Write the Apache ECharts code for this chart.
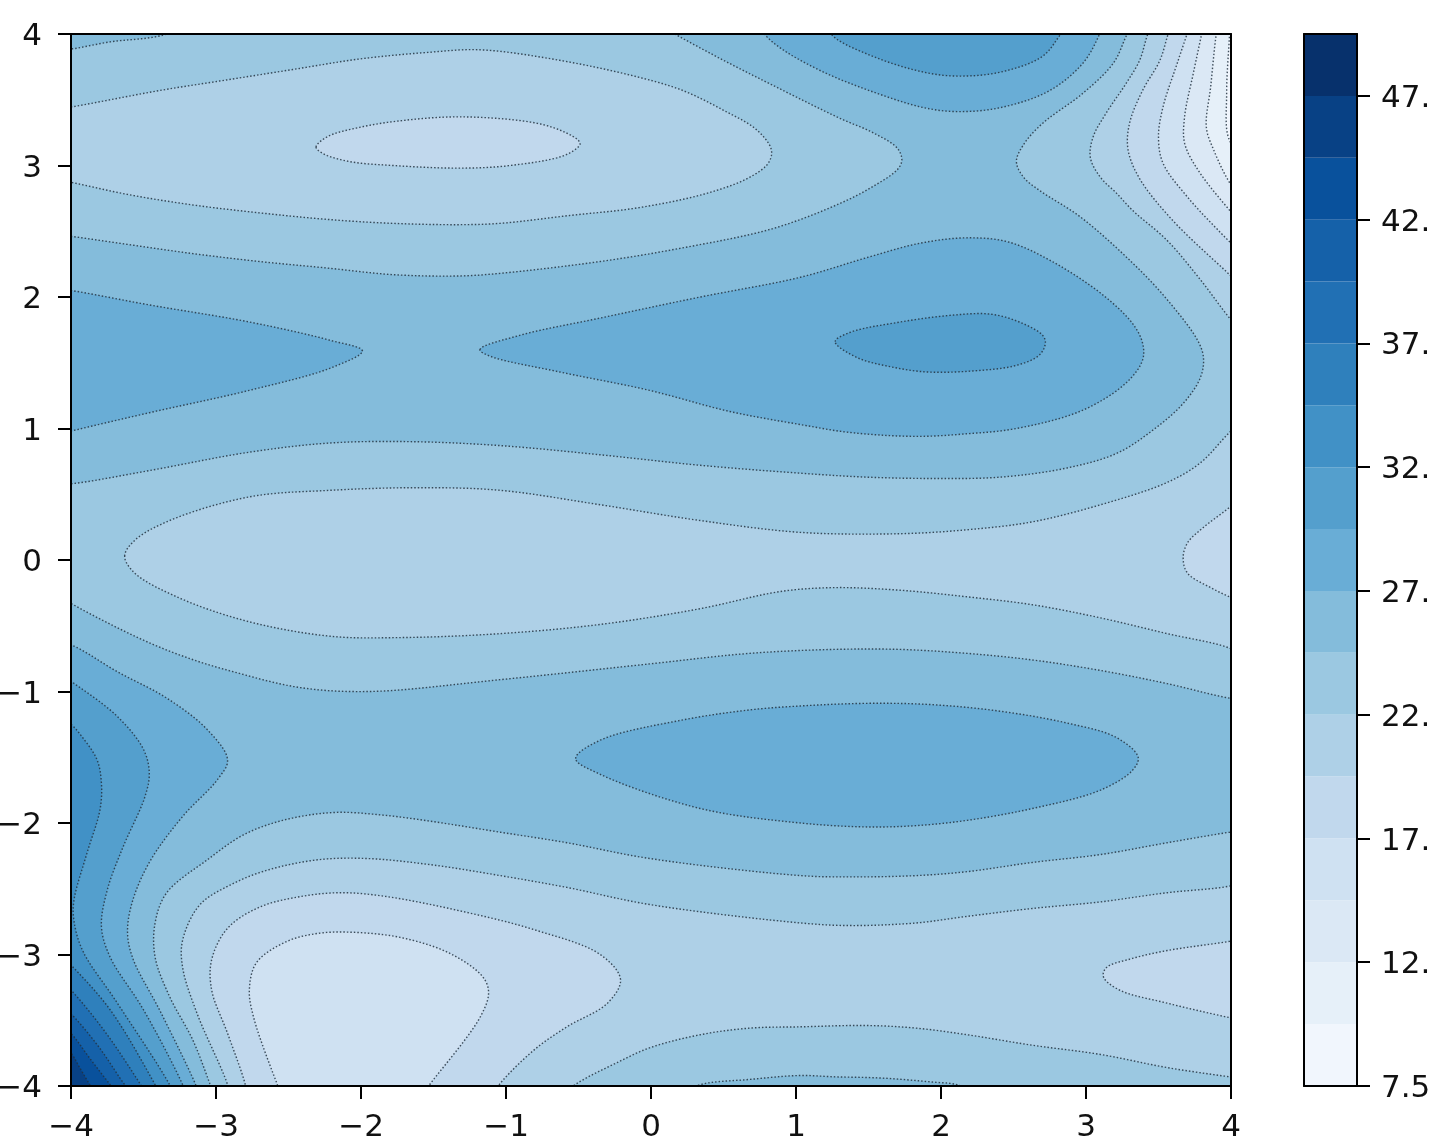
<!DOCTYPE html>
<html>
<head>
<meta charset="utf-8">
<title>contour</title>
<script src="https://cdn.jsdelivr.net/npm/echarts@6/dist/echarts.min.js"></script>
<style>
  html, body { margin: 0; padding: 0; background: #fff; overflow: hidden; }
  #chart { width: 1435px; height: 1145px; filter: blur(0.5px); }
</style>
</head>
<body>
<div id="chart"></div>
<script>
// colour bands of the bar, from 7.5 up in steps of 2.5
const levels = [7.5, 10, 12.5, 15, 17.5, 20, 22.5, 25, 27.5, 30, 32.5, 35, 37.5, 40, 42.5, 45, 47.5, 50];
const bandColors = ['#f1f6fd', '#e6f0f9', '#dbe8f5', '#cfe1f2', '#c1d8ed', '#aed0e7', '#9bc8e1', '#84bcdb', '#69add6', '#549fcd', '#4191c6', '#2f80bc', '#2170b4', '#1561a9', '#09519c', '#084185', '#07316c'];
const xTicks = [-4, -3, -2, -1, 0, 1, 2, 3, 4];
const yTicks = [-4, -3, -2, -1, 0, 1, 2, 3, 4];
const barTicks = [7.5, 12.5, 17.5, 22.5, 27.5, 32.5, 37.5, 42.5, 47.5];

// contour outlines, as [x, y]; points past +-4 only close the shape
const c25Top = [[-4.14,2.48],[-3.99,2.46],[-3.61,2.40],[-3.16,2.33],[-2.70,2.27],[-2.23,2.22],[-1.78,2.17],[-1.32,2.16],[-1.04,2.18],[-0.35,2.27],[0.20,2.37],[0.84,2.52],[1.30,2.71],[1.53,2.84],[1.70,2.97],[1.73,3.04],[1.70,3.13],[1.53,3.25],[1.30,3.36],[0.84,3.61],[0.50,3.80],[0.18,3.99],[-0.01,4.11],[-3.11,4.11],[-3.37,3.99],[-3.73,3.94],[-3.97,3.89],[-4.14,3.86]];
const c25Mid = [[-4.14,0.58],[-4.00,0.58],[-3.46,0.68],[-2.77,0.82],[-2.21,0.89],[-1.66,0.90],[-1.04,0.87],[-0.35,0.80],[0.34,0.72],[1.03,0.66],[1.49,0.63],[1.94,0.62],[2.41,0.63],[2.87,0.70],[3.21,0.81],[3.44,0.97],[3.67,1.19],[3.79,1.39],[3.81,1.54],[3.77,1.67],[3.56,1.98],[3.32,2.26],[2.96,2.61],[2.68,2.81],[2.57,2.91],[2.52,3.03],[2.57,3.16],[2.70,3.32],[2.98,3.55],[3.19,3.78],[3.28,3.99],[3.34,4.11],[4.13,4.11],[4.13,-1.06],[3.99,-1.05],[3.56,-0.94],[3.10,-0.84],[2.63,-0.76],[2.18,-0.71],[1.72,-0.68],[1.26,-0.68],[0.68,-0.71],[-0.01,-0.79],[-1.04,-0.91],[-1.94,-1.00],[-2.42,-0.97],[-2.88,-0.85],[-3.18,-0.75],[-3.50,-0.61],[-4.00,-0.33],[-4.14,-0.23]];
const c25Low = [[4.13,-2.05],[3.99,-2.07],[3.56,-2.15],[3.10,-2.24],[2.63,-2.30],[2.18,-2.37],[1.83,-2.40],[1.37,-2.41],[1.03,-2.40],[-0.01,-2.27],[-0.58,-2.15],[-1.04,-2.07],[-1.50,-1.99],[-1.85,-1.94],[-2.19,-1.92],[-2.54,-1.98],[-2.81,-2.09],[-3.06,-2.28],[-3.34,-2.53],[-3.42,-2.76],[-3.42,-3.02],[-3.32,-3.32],[-3.16,-3.65],[-3.04,-3.99],[-2.99,-4.14],[4.13,-4.14]];
const c225Top = [[-4.14,3.42],[-3.97,3.45],[-3.39,3.57],[-2.93,3.65],[-2.47,3.73],[-2.01,3.81],[-1.54,3.86],[-1.18,3.88],[-0.63,3.80],[-0.08,3.67],[0.22,3.57],[0.50,3.42],[0.73,3.27],[0.83,3.12],[0.81,3.02],[0.68,2.91],[0.39,2.79],[-0.08,2.68],[-0.56,2.62],[-1.04,2.56],[-1.32,2.55],[-1.78,2.56],[-2.23,2.59],[-2.70,2.64],[-3.16,2.70],[-3.61,2.78],[-3.99,2.87],[-4.14,2.90]];
const c225Mid = [[-3.63,0.03],[-3.56,0.15],[-3.32,0.30],[-2.77,0.48],[-2.21,0.53],[-1.59,0.55],[-1.04,0.53],[-0.35,0.42],[0.34,0.30],[1.03,0.21],[1.72,0.20],[2.18,0.23],[2.63,0.29],[3.10,0.42],[3.56,0.59],[3.79,0.74],[3.99,0.97],[4.13,1.10],[4.13,-0.76],[3.99,-0.67],[3.56,-0.56],[3.10,-0.44],[2.63,-0.34],[2.18,-0.28],[1.72,-0.23],[1.26,-0.21],[0.89,-0.24],[0.34,-0.37],[-0.35,-0.49],[-1.04,-0.56],[-1.73,-0.59],[-2.21,-0.58],[-2.77,-0.47],[-3.25,-0.29],[-3.56,-0.10]];
const c225Low = [[4.13,-2.43],[3.99,-2.48],[3.56,-2.53],[3.10,-2.60],[2.63,-2.65],[2.18,-2.71],[1.83,-2.76],[1.37,-2.78],[1.03,-2.76],[-0.01,-2.62],[-0.58,-2.49],[-1.04,-2.40],[-1.50,-2.32],[-1.96,-2.27],[-2.30,-2.28],[-2.65,-2.36],[-2.88,-2.46],[-3.11,-2.62],[-3.23,-2.89],[-3.23,-3.10],[-3.13,-3.45],[-2.92,-3.99],[-2.89,-4.14],[4.13,-4.14]];
const c225Bottom = [[-0.66,-4.11],[-0.51,-3.98],[-0.23,-3.82],[-0.01,-3.71],[0.34,-3.61],[0.68,-3.56],[1.03,-3.55],[1.49,-3.54],[1.83,-3.56],[2.18,-3.61],[2.63,-3.69],[3.10,-3.76],[3.56,-3.86],[3.99,-3.93],[4.13,-3.95],[4.13,-4.14]];
const c25Bottom = [[0.20,-4.07],[0.34,-3.99],[0.68,-3.95],[1.03,-3.92],[1.26,-3.93],[1.60,-3.94],[1.94,-3.97],[2.11,-3.99],[2.27,-4.07]];
const c225Corner = [[3.48,4.11],[3.43,4.01],[3.37,3.80],[3.28,3.63],[3.14,3.40],[3.05,3.22],[3.03,3.06],[3.10,2.91],[3.21,2.79],[3.32,2.66],[3.56,2.43],[3.79,2.13],[3.99,1.84],[4.13,1.67],[4.13,4.11]];
const c20Corner = [[3.61,4.11],[3.57,4.01],[3.51,3.80],[3.39,3.57],[3.30,3.32],[3.29,3.12],[3.37,2.90],[3.60,2.58],[3.99,2.17],[4.13,2.02],[4.13,4.11]];
const c175Corner = [[3.73,4.11],[3.70,4.01],[3.63,3.78],[3.53,3.44],[3.50,3.22],[3.53,3.02],[3.70,2.76],[3.99,2.42],[4.13,2.27],[4.13,4.11]];
const c15Corner = [[3.82,4.11],[3.80,4.01],[3.74,3.70],[3.68,3.37],[3.68,3.17],[3.77,2.97],[3.99,2.66],[4.13,2.49],[4.13,4.11]];
const c125Corner = [[3.92,4.11],[3.90,4.01],[3.86,3.60],[3.83,3.29],[3.88,3.12],[3.99,2.87],[4.13,2.66],[4.13,4.11]];
const c10Corner = [[3.99,4.11],[3.99,4.01],[3.97,3.55],[3.99,3.19],[4.13,3.04],[4.13,4.11]];
const c20Top = [[-2.31,3.14],[-2.23,3.22],[-2.01,3.29],[-1.73,3.34],[-1.32,3.37],[-0.83,3.33],[-0.63,3.27],[-0.50,3.19],[-0.49,3.16],[-0.59,3.08],[-0.97,3.00],[-1.32,2.98],[-1.78,3.00],[-2.08,3.03],[-2.26,3.09]];
const c20Mid = [[4.13,0.53],[3.99,0.40],[3.79,0.23],[3.70,0.13],[3.67,0.02],[3.70,-0.10],[3.86,-0.21],[3.99,-0.28],[4.13,-0.34]];
const c20Right = [[4.13,-2.87],[3.99,-2.90],[3.56,-2.97],[3.32,-3.03],[3.14,-3.10],[3.12,-3.17],[3.23,-3.27],[3.56,-3.37],[3.99,-3.48],[4.13,-3.51]];
const c20Left = [[-2.77,-4.14],[-2.80,-3.98],[-2.92,-3.60],[-3.03,-3.27],[-3.03,-3.04],[-2.92,-2.80],[-2.70,-2.64],[-2.42,-2.56],[-2.14,-2.53],[-1.82,-2.56],[-1.27,-2.68],[-0.81,-2.81],[-0.35,-3.00],[-0.21,-3.19],[-0.30,-3.37],[-0.58,-3.55],[-0.80,-3.72],[-1.04,-3.98],[-1.14,-4.14]];
const c175Left = [[-2.52,-4.14],[-2.58,-3.98],[-2.74,-3.48],[-2.77,-3.27],[-2.72,-3.06],[-2.51,-2.90],[-2.30,-2.84],[-2.08,-2.83],[-1.73,-2.87],[-1.39,-2.99],[-1.16,-3.17],[-1.12,-3.29],[-1.18,-3.48],[-1.52,-3.98],[-1.63,-4.14]];
const c275Wedge = [[-4.14,2.07],[-4.00,2.05],[-3.46,1.94],[-2.77,1.81],[-2.21,1.67],[-1.99,1.59],[-2.21,1.46],[-2.77,1.29],[-3.46,1.12],[-4.00,0.98],[-4.14,0.94]];
const c275Mid = [[-1.18,1.60],[-0.90,1.71],[-0.35,1.84],[0.34,2.00],[1.03,2.15],[1.49,2.30],[1.86,2.41],[2.18,2.45],[2.46,2.42],[2.75,2.28],[3.10,2.03],[3.32,1.80],[3.39,1.65],[3.39,1.52],[3.28,1.35],[2.98,1.14],[2.52,1.00],[2.18,0.96],[1.83,0.94],[1.37,0.97],[1.03,1.03],[0.54,1.13],[-0.01,1.29],[-0.63,1.43],[-1.11,1.55]];
const c275Low = [[-0.52,-1.51],[-0.35,-1.37],[0.20,-1.22],[0.68,-1.14],[1.03,-1.11],[1.49,-1.09],[1.94,-1.10],[2.41,-1.15],[2.87,-1.24],[3.21,-1.35],[3.36,-1.50],[3.32,-1.60],[3.10,-1.75],[2.63,-1.89],[2.18,-1.98],[1.83,-2.02],[1.49,-2.03],[1.03,-2.00],[0.34,-1.89],[-0.35,-1.63]];
const c275Top = [[0.72,4.11],[0.79,3.99],[0.91,3.88],[1.19,3.71],[1.53,3.56],[1.88,3.44],[2.11,3.41],[2.41,3.44],[2.75,3.57],[2.98,3.78],[3.09,3.99],[3.13,4.11]];
const c275Left = [[-4.14,-0.61],[-3.99,-0.65],[-3.68,-0.85],[-3.34,-1.05],[-3.06,-1.29],[-2.92,-1.52],[-2.99,-1.67],[-3.23,-1.95],[-3.46,-2.30],[-3.58,-2.61],[-3.61,-2.84],[-3.57,-3.04],[-3.39,-3.42],[-3.14,-3.99],[-3.09,-4.14],[-4.14,-4.14]];
const c30Left = [[-4.14,-0.82],[-3.99,-0.93],[-3.68,-1.19],[-3.50,-1.44],[-3.46,-1.62],[-3.49,-1.80],[-3.64,-2.18],[-3.75,-2.51],[-3.79,-2.79],[-3.73,-3.02],[-3.50,-3.42],[-3.23,-3.99],[-3.18,-4.14],[-4.14,-4.14]];
const c30Top = [[1.20,4.11],[1.25,3.99],[1.53,3.83],[1.88,3.71],[2.11,3.68],[2.41,3.71],[2.70,3.83],[2.82,3.99],[2.90,4.11]];
const c30Mid = [[1.27,1.66],[1.37,1.73],[1.72,1.81],[2.06,1.86],[2.34,1.87],[2.54,1.81],[2.70,1.71],[2.72,1.65],[2.68,1.56],[2.52,1.48],[2.25,1.44],[1.90,1.43],[1.65,1.47],[1.42,1.54]];
const c325Left = [[-4.14,-1.16],[-4.00,-1.25],[-3.92,-1.35],[-3.82,-1.52],[-3.79,-1.70],[-3.80,-1.90],[-3.89,-2.23],[-3.98,-2.59],[-3.98,-2.74],[-3.92,-2.97],[-3.68,-3.37],[-3.32,-3.99],[-3.26,-4.14],[-4.14,-4.14]];
const c35Left = [[-4.14,-2.93],[-4.00,-3.08],[-3.73,-3.42],[-3.42,-3.99],[-3.35,-4.14],[-4.14,-4.14]];
const c375Left = [[-4.14,-3.12],[-4.00,-3.27],[-3.77,-3.58],[-3.52,-3.99],[-3.44,-4.14],[-4.14,-4.14]];
const c40Left = [[-4.14,-3.31],[-4.00,-3.45],[-3.81,-3.70],[-3.63,-3.99],[-3.52,-4.14],[-4.14,-4.14]];
const c425Left = [[-4.14,-3.47],[-4.00,-3.60],[-3.87,-3.79],[-3.73,-3.99],[-3.62,-4.14],[-4.14,-4.14]];
const c45Left = [[-4.14,-3.62],[-4.00,-3.75],[-3.94,-3.86],[-3.87,-3.99],[-3.78,-4.14],[-4.14,-4.14]];

// painted in this order, each with the band it fills
const contours = [c25Top, c25Mid, c25Low, c225Top, c225Mid, c225Low, c225Bottom, c25Bottom, c225Corner, c20Corner, c175Corner, c15Corner, c125Corner, c10Corner, c20Top, c20Mid, c20Right, c20Left, c175Left, c275Wedge, c275Mid, c275Low, c275Top, c275Left, c30Left, c30Top, c30Mid, c325Left, c35Left, c375Left, c40Left, c425Left, c45Left];
const contourBands = [6, 6, 6, 5, 5, 5, 6, 7, 5, 4, 3, 2, 1, 0, 4, 4, 4, 4, 3, 8, 8, 8, 8, 8, 9, 9, 9, 10, 11, 12, 13, 14, 15];

const myChart = echarts.init(document.getElementById('chart'), null, { renderer: 'canvas' });

function minusLabel(v) {
  return String(v).replace('-', '\u2212');
}

// centripetal catmull-rom through the pixel points of a closed outline
function splineClosed(pts) {
  const out = [];
  const n = pts.length;
  function knot(t, a, b) {
    return t + Math.pow(Math.hypot(b[0] - a[0], b[1] - a[1]), 0.5);
  }
  function mix(a, b, ta, tb, t) {
    const k = (t - ta) / (tb - ta);
    return [a[0] + (b[0] - a[0]) * k, a[1] + (b[1] - a[1]) * k];
  }
  for (let i = 0; i < n; i++) {
    const p0 = pts[(i - 1 + n) % n], p1 = pts[i], p2 = pts[(i + 1) % n], p3 = pts[(i + 2) % n];
    const t0 = 0, t1 = knot(t0, p0, p1), t2 = knot(t1, p1, p2), t3 = knot(t2, p2, p3);
    for (let s = 0; s < 10; s++) {
      const t = t1 + (t2 - t1) * s / 10;
      const a1 = mix(p0, p1, t0, t1, t), a2 = mix(p1, p2, t1, t2, t), a3 = mix(p2, p3, t2, t3, t);
      const b1 = mix(a1, a2, t0, t2, t), b2 = mix(a2, a3, t1, t3, t);
      out.push(mix(b1, b2, t1, t2, t));
    }
  }
  return out;
}

function renderContour(params, api) {
  const pts = contours[params.dataIndex].map(function (p) {
    return api.coord(p);
  });
  return {
    type: 'polygon',
    shape: { points: splineClosed(pts) },
    style: {
      fill: bandColors[contourBands[params.dataIndex]],
      stroke: 'rgba(35,50,65,0.85)',
      lineWidth: 1.4,
      lineDash: [1.5, 2]
    }
  };
}

function renderBand(params, api) {
  const a = api.coord([0, levels[params.dataIndex]]);
  const b = api.coord([1, levels[params.dataIndex + 1]]);
  return {
    type: 'rect',
    shape: { x: a[0], y: b[1], width: b[0] - a[0], height: a[1] - b[1] },
    style: { fill: bandColors[params.dataIndex] }
  };
}

const textStyle = { color: '#111', fontFamily: 'DejaVu Sans', fontSize: 31 };
const lineStyle = { color: '#000', width: 2 };

const option = {
  animation: false,
  backgroundColor: '#fff',
  grid: [
    { left: 71, top: 34, width: 1160, height: 1052, show: true, backgroundColor: bandColors[7], borderWidth: 0, outerBoundsMode: 'none' },
    { left: 1304, top: 34, width: 53, height: 1052, show: false, outerBoundsMode: 'none' }
  ],
  xAxis: [
    {
      gridIndex: 0, type: 'value', min: -4, max: 4, interval: 1, position: 'bottom', z: 5,
      splitLine: { show: false },
      axisLine: { show: true, onZero: false, lineStyle: lineStyle },
      axisTick: { show: true, length: 13, lineStyle: lineStyle },
      axisLabel: Object.assign({ margin: 26, formatter: minusLabel, customValues: xTicks }, textStyle)
    },
    {
      gridIndex: 0, type: 'value', min: -4, max: 4, position: 'top', z: 5,
      splitLine: { show: false },
      axisLine: { show: true, onZero: false, lineStyle: lineStyle },
      axisTick: { show: false }, axisLabel: { show: false }
    },
    {
      gridIndex: 1, type: 'value', min: 0, max: 1, position: 'bottom', z: 5,
      splitLine: { show: false },
      axisLine: { show: true, onZero: false, lineStyle: lineStyle },
      axisTick: { show: false }, axisLabel: { show: false }
    },
    {
      gridIndex: 1, type: 'value', min: 0, max: 1, position: 'top', z: 5,
      splitLine: { show: false },
      axisLine: { show: true, onZero: false, lineStyle: lineStyle },
      axisTick: { show: false }, axisLabel: { show: false }
    }
  ],
  yAxis: [
    {
      gridIndex: 0, type: 'value', min: -4, max: 4, interval: 1, position: 'left', z: 5,
      splitLine: { show: false },
      axisLine: { show: true, onZero: false, lineStyle: lineStyle },
      axisTick: { show: true, length: 13, lineStyle: lineStyle },
      axisLabel: Object.assign({ margin: 29, verticalAlign: 'top', lineHeight: 6, formatter: minusLabel, customValues: yTicks }, textStyle)
    },
    {
      gridIndex: 0, type: 'value', min: -4, max: 4, position: 'right', z: 5,
      splitLine: { show: false },
      axisLine: { show: true, onZero: false, lineStyle: lineStyle },
      axisTick: { show: false }, axisLabel: { show: false }
    },
    {
      gridIndex: 1, type: 'value', min: 7.5, max: 50, position: 'left', z: 5,
      splitLine: { show: false },
      axisLine: { show: true, onZero: false, lineStyle: lineStyle },
      axisTick: { show: false }, axisLabel: { show: false }
    },
    {
      gridIndex: 1, type: 'value', min: 7.5, max: 50, position: 'right', z: 5,
      splitLine: { show: false },
      axisLine: { show: true, onZero: false, lineStyle: lineStyle },
      axisTick: { show: true, length: 13, lineStyle: lineStyle, customValues: barTicks },
      axisLabel: Object.assign({ margin: 24, verticalAlign: 'top', lineHeight: 6, width: 54, overflow: 'truncate', ellipsis: '', customValues: barTicks }, textStyle)
    }
  ],
  series: [
    {
      type: 'custom',
      xAxisIndex: 0,
      yAxisIndex: 0,
      clip: true,
      renderItem: renderContour,
      silent: true,
      data: contours.map(function (c, i) { return [c[0][0], c[0][1], i]; })
    },
    {
      type: 'custom',
      xAxisIndex: 2,
      yAxisIndex: 2,
      clip: true,
      renderItem: renderBand,
      silent: true,
      data: bandColors.map(function (c, i) { return [0.5, levels[i]]; })
    }
  ]
};

myChart.setOption(option);
</script>
</body>
</html>
